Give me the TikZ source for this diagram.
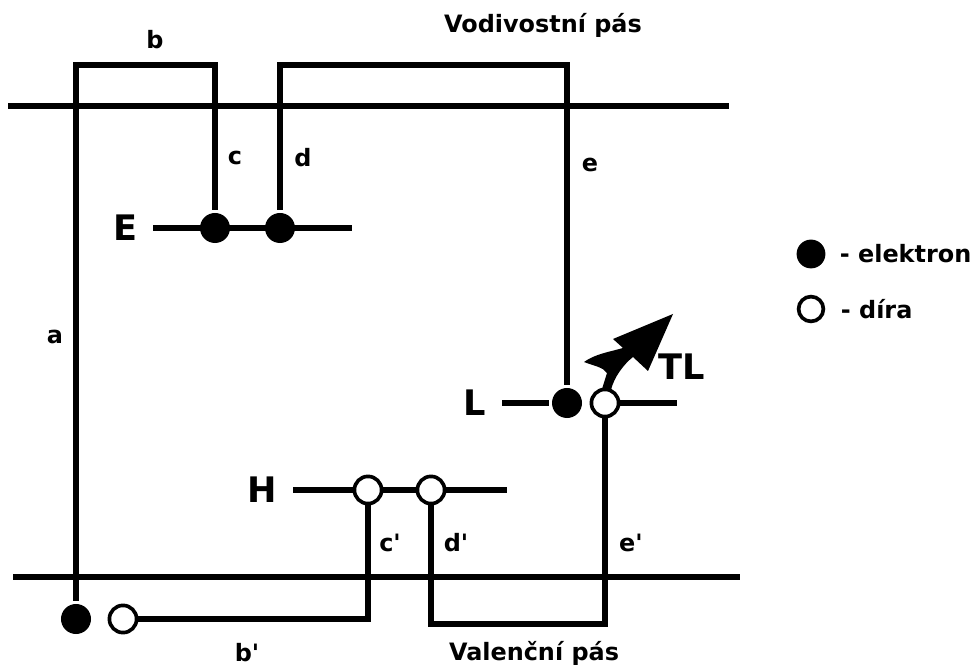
\documentclass[tikz,border=0pt]{standalone}
\usepackage{fontspec}
\setmainfont{DejaVu Sans}
\usetikzlibrary{positioning}

\begin{document}
\begin{tikzpicture}[
    x=0.025cm, y=-0.025cm,
    line width=4.3pt,
    elektron/.style={circle, fill=black, inner sep=0pt, minimum size=0.75cm},
    dira/.style={circle, draw, fill=white, line width=2.6pt, inner sep=0pt, minimum size=0.68cm},
    label/.style={font=\fontsize{17}{20}\selectfont\bfseries, inner sep=1pt},
    level/.style={font=\fontsize{25}{29}\selectfont\bfseries, inner sep=1pt}
]
\useasboundingbox (0,0) rectangle (975,668);

% bands
\coordinate (cbl) at (8,106);
\coordinate (cbr) at (729,106);
\coordinate (vbl) at (13,577);
\coordinate (vbr) at (740,577);
\draw (cbl) -- (cbr);
\draw (vbl) -- (vbr);

% levels
\coordinate (El) at (153,228);
\coordinate (Er) at (352,228);
\coordinate (Ll) at (502,403);
\coordinate (Lr) at (677,403);
\coordinate (Hl) at (293,490);
\coordinate (Hr) at (507,490);
\node[elektron] (ec) at (215,228) {};
\node[elektron] (ed) at (280,228) {};
\node[elektron] (eL) at (567,403) {};
\node[dira] (hL) at (605,403) {};
\node[dira] (hc) at (368,490) {};
\node[dira] (hd) at (431,490) {};
\node[elektron] (ea) at (76,619) {};
\node[dira] (hb) at (123,619) {};
\draw (El) -- (Er);
\draw (Ll) -- (eL) (hL) -- (Lr);
\draw (Hl) -- (hc) (hc) -- (hd) (hd) -- (Hr);

% transitions
\coordinate (btop) at (150,65);
\coordinate (dtop) at (420,65);
\coordinate (dbot) at (520,624);
\draw (ea) |- (btop) -| (ec);
\draw (ed) |- (dtop) -| (eL);
\draw (hc.south) |- (hb.east);
\draw (hd.south) |- (dbot) -| (hL.south);

% trapping arrow
\fill (602,389) -- (611,390) .. controls (614,377) and (624,364) .. (633,357)
  -- (648,371) -- (673,314) -- (613,339) -- (623,348)
  .. controls (609,352) and (595,354) .. (584,362)
  .. controls (594,366) and (603,367) .. (607,373) -- cycle;

% labels
\node[label] (lb) at (155,40) {b};
\node[label] (la) at (55,337) {a};
\node[label] (lc) at (235,158) {c};
\node[label] (ld) at (303,158) {d};
\node[label] (le) at (590,165) {e};
\node[label] (lcc) at (390,543) {c\textquotesingle};
\node[label] (ldd) at (456,543) {d\textquotesingle};
\node[label] (lee) at (631,543) {e\textquotesingle};
\node[label] (lbb) at (247,653) {b\textquotesingle};
\node[label] (cb) at (543,25) {Vodivostní pás};
\node[label] (vb) at (534,653) {Valenční pás};
\node[level, left=8pt of El] (E) {E};
\node[level, left=8pt of Ll] (L) {L};
\node[level, left=8pt of Hl] (H) {H};
\node[level] (TL) at (682,367) {TL};

% legend
\node[elektron, minimum size=0.72cm] (le1) at (811,254) {};
\node[dira, minimum size=0.62cm] (ld1) at (811,309) {};
\node[label, right=5pt of le1] {- elektron};
\node[label, right=8pt of ld1] {- díra};

\end{tikzpicture}
\end{document}
